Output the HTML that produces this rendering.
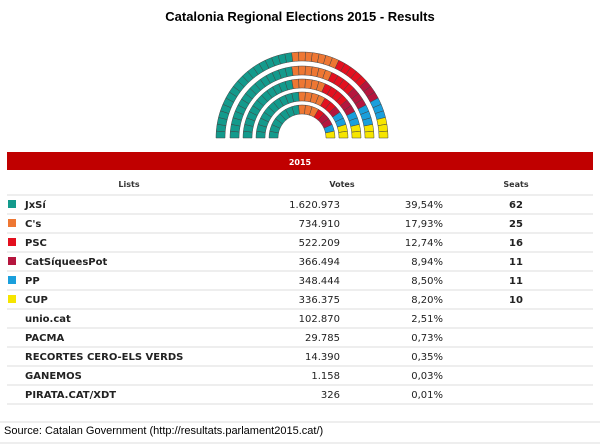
<!DOCTYPE html>
<html><head><meta charset="utf-8"><style>
body{margin:0;background:#fff;}
svg{display:block;}
</style></head><body>
<svg id="c" width="600" height="445" xmlns="http://www.w3.org/2000/svg" font-family="'DejaVu Sans', Verdana, sans-serif">
<text x="300" y="21" text-anchor="middle" font-family="'Liberation Sans', Arial, sans-serif" font-weight="bold" font-size="13" fill="#000">Catalonia Regional Elections 2015 - Results</text>
<g id="hemi"></g>
<rect x="7" y="152" width="586" height="18" fill="#c00000"/>
<text x="300" y="165" text-anchor="middle" font-size="8" font-weight="bold" fill="#fff">2015</text>
<text x="129" y="187" text-anchor="middle" font-size="8" font-weight="bold" fill="#333">Lists</text>
<text x="342" y="187" text-anchor="middle" font-size="8" font-weight="bold" fill="#333">Votes</text>
<text x="516" y="187" text-anchor="middle" font-size="8" font-weight="bold" fill="#333">Seats</text>
<g id="rows"></g>
<line x1="0" y1="422" x2="600" y2="422" stroke="#ddd"/>
<text x="4" y="434" font-family="'Liberation Sans', Arial, sans-serif" font-size="11" fill="#000">Source: Catalan Government (http://resultats.parlament2015.cat/)</text>
<line x1="0" y1="443" x2="600" y2="443" stroke="#ddd"/>
</svg>
<script>
const parties = ["JxSí","C's","PSC","CatSíqueesPot","PP","CUP","unio.cat","PACMA","RECORTES CERO-ELS VERDS","GANEMOS","PIRATA.CAT/XDT"];
const votes = ["1.620.973","734.910","522.209","366.494","348.444","336.375","102.870","29.785","14.390","1.158","326"];
const pcts = ["39,54%","17,93%","12,74%","8,94%","8,50%","8,20%","2,51%","0,73%","0,35%","0,03%","0,01%"];
const seats = [62,25,16,11,11,10,0,0,0,0,0];
const colors = ["#139a8c","#ee7733","#e3101f","#b5163e","#1a9fdc","#f6e500",null,null,null,null,null];
const NS="http://www.w3.org/2000/svg";
function mk(t,a,p){const e=document.createElementNS(NS,t);for(const k in a)e.setAttribute(k,a[k]);p.appendChild(e);return e;}
const hemi=document.getElementById('hemi');
const cx=302, cy=138;
const ringsR=[33,46,59,72,86], ringW=9;
const total=seats.reduce((a,b)=>a+b,0);
const sumR=ringsR.reduce((a,b)=>a+b,0);
let per=ringsR.map(r=>Math.round(total*r/sumR));
per[per.length-1]+=total-per.reduce((a,b)=>a+b,0);
let seatList=[];
ringsR.forEach((r,ri)=>{const n=per[ri];for(let i=0;i<n;i++){const a0=Math.PI-Math.PI*i/n,a1=Math.PI-Math.PI*(i+1)/n;seatList.push({r,a0,a1,mid:(a0+a1)/2});}});
seatList.sort((a,b)=>b.mid-a.mid);
let idx=0;
seats.forEach((s,pi)=>{for(let k=0;k<s;k++){const st=seatList[idx++];const ro=st.r,ri=st.r-ringW;
const p=(r,a)=>[(cx+r*Math.cos(a)).toFixed(2),(cy-r*Math.sin(a)).toFixed(2)];
const [x1,y1]=p(ro,st.a0),[x2,y2]=p(ro,st.a1),[x3,y3]=p(ri,st.a1),[x4,y4]=p(ri,st.a0);
const e=mk('path',{d:`M${x1},${y1}A${ro},${ro} 0 0 1 ${x2},${y2}L${x3},${y3}A${ri},${ri} 0 0 0 ${x4},${y4}Z`,fill:colors[pi],stroke:"#444","stroke-width":"0.5"},hemi);

}});
const rows=document.getElementById('rows');
mk('line',{x1:7,y1:195,x2:593,y2:195,stroke:"#ddd"},rows);
parties.forEach((p,i)=>{const y=204+i*19;
const g=mk('g',{},rows);


if(colors[i]){const r=mk('rect',{x:8,y:y-4,width:8,height:8,fill:colors[i]},g);}
const t=mk('text',{x:25,y:y+4,"font-size":"10","font-weight":"bold",fill:"#222"},g);t.textContent=p;
const v=mk('text',{x:340,y:y+4,"font-size":"10","text-anchor":"end",fill:"#222"},g);v.textContent=votes[i];
const q=mk('text',{x:443,y:y+4,"font-size":"10","text-anchor":"end",fill:"#222"},g);q.textContent=pcts[i];
if(seats[i]){const s=mk('text',{x:516,y:y+4,"font-size":"10","font-weight":"bold","text-anchor":"middle",fill:"#222"},g);s.textContent=seats[i];}
mk('line',{x1:7,y1:y+10,x2:593,y2:y+10,stroke:"#ddd"},rows);
});
</script>
</body></html>
